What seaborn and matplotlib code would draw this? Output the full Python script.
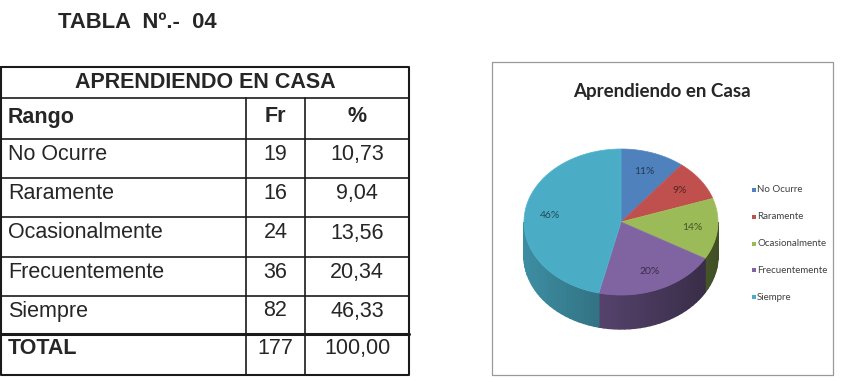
import numpy as np
import matplotlib
matplotlib.use("Agg")
import matplotlib.pyplot as plt
import seaborn as sns

# data
categorias = ["No Ocurre", "Raramente", "Ocasionalmente", "Frecuentemente", "Siempre"]
frecuencia = [19, 16, 24, 36, 82]
porcentaje = ["10,73", "9,04", "13,56", "20,34", "46,33"]
pct_valores = [10.73, 9.04, 13.56, 20.34, 46.33]
total_fr = 177
total_pct = "100,00"
pie_labels = ["11%", "9%", "14%", "20%", "46%"]

sns.set_theme(style="white")
colores = sns.color_palette(["#4F81BD", "#C0504D", "#9BBB59", "#8064A2", "#4BACC6"])
plt.rcParams['font.family'] = ['Liberation Sans', 'DejaVu Sans']
chart_font = ['Lato', 'DejaVu Sans']

fig = plt.figure(figsize=(8.43, 3.82), dpi=100)
ax = fig.add_axes([0, 0, 1, 1])
ax.set_xlim(0, 843)
ax.set_ylim(382, 0)
ax.axis('off')

#%% table
ax.text(58, 22, "TABLA  Nº.-  04", fontsize=15.8, fontweight='bold', va='center', ha='left')

xs = [1, 246, 305, 409]
ys = [67, 98, 139, 178, 217, 257, 296, 334, 375]
lc = '#1a1a1a'
# outer border
ax.plot([xs[0], xs[-1], xs[-1], xs[0], xs[0]], [ys[0], ys[0], ys[-1], ys[-1], ys[0]], color=lc, lw=1.5)
for y in ys[1:-1]:
    ax.plot([xs[0], xs[-1]], [y, y], color=lc, lw=2.2 if y == ys[-2] else 1.2)
for x in xs[1:-1]:
    ax.plot([x, x], [ys[1], ys[-1]], color=lc, lw=1.2)

ax.text((xs[0] + xs[-1]) / 2, 82, "APRENDIENDO EN CASA", fontsize=15.5, fontweight='bold', ha='center', va='center')
ax.text(8, 117, "Rango", fontsize=15.5, fontweight='bold', ha='left', va='center')
ax.text((xs[1] + xs[2]) / 2, 117, "Fr", fontsize=15.5, fontweight='bold', ha='center', va='center')
ax.text((xs[2] + xs[3]) / 2, 117, "%", fontsize=15.5, fontweight='bold', ha='center', va='center')

for i, (c, f, p) in enumerate(zip(categorias, frecuencia, porcentaje)):
    yc = (ys[i + 2] + ys[i + 3]) / 2 - 4
    ax.text(8, yc, c, fontsize=15.5, ha='left', va='center')
    ax.text((xs[1] + xs[2]) / 2, yc, str(f), fontsize=15.5, ha='center', va='center')
    ax.text((xs[2] + xs[3]) / 2, yc, p, fontsize=15.5, ha='center', va='center')
yc = (ys[-2] + ys[-1]) / 2 - 6
ax.text(8, yc, "TOTAL", fontsize=15.5, fontweight='bold', ha='left', va='center')
ax.text((xs[1] + xs[2]) / 2, yc, str(total_fr), fontsize=15.5, ha='center', va='center')
ax.text((xs[2] + xs[3]) / 2, yc, total_pct, fontsize=15.5, ha='center', va='center')

#%% chart box
ax.plot([492, 833, 833, 492, 492], [62, 62, 375, 375, 62], color='#9a9a9a', lw=0.9)
ax.text(662, 91, "Aprendiendo en Casa", fontsize=13.5, fontweight='bold', color='#262626',
        ha='center', va='center', family=chart_font)

#%% 3D pie
cx, cy, a, b, depth = 621, 222, 97, 73, 34
fr = np.array(pct_valores) / sum(pct_valores)
bounds = np.concatenate([[0], np.cumsum(fr)]) * 2 * np.pi


def shade(col, k):
    return tuple(np.clip(np.array(col) * k, 0, 1))


def edge(t):
    return cx + a * np.sin(t), cy - b * np.cos(t)


# sides (only front half visible)
for i, col in enumerate(colores):
    t0, t1 = max(bounds[i], np.pi / 2), min(bounds[i + 1], 3 * np.pi / 2)
    if t1 <= t0:
        continue
    ts = np.linspace(t0, t1, max(int((t1 - t0) / 0.05), 2))
    for s0, s1 in zip(ts[:-1], ts[1:]):
        k = 0.62 - 0.2 * np.sin((s0 + s1) / 2)
        x0, y0 = edge(s0)
        x1, y1 = edge(s1)
        ax.fill([x0, x1, x1, x0], [y0, y1, y1 + depth, y0 + depth],
                fc=shade(col, k), ec=shade(col, k), lw=1.0)

# top faces
for i, col in enumerate(colores):
    ts = np.linspace(bounds[i], bounds[i + 1], 80)
    ex, ey = edge(ts)
    ax.fill(np.r_[cx, ex], np.r_[cy, ey], fc=col, lw=0.5, ec=shade(col, 1.05))
    mid = (bounds[i] + bounds[i + 1]) / 2
    lx = cx + 0.74 * a * np.sin(mid)
    ly = cy - 0.74 * b * np.cos(mid)
    ax.text(lx, ly, pie_labels[i], fontsize=7.5, color=shade(col, 0.45), ha='center', va='center',
            family=chart_font)

#%% legend
for i, (c, col) in enumerate(zip(categorias, colores)):
    ly = 190 + i * 26.8
    ax.scatter([753.5], [ly], marker='s', s=11, color=col, linewidths=0)
    ax.text(757, ly, c, fontsize=7, color='#404040', ha='left', va='center', family=chart_font)

fig.savefig("out.png", dpi=100)
